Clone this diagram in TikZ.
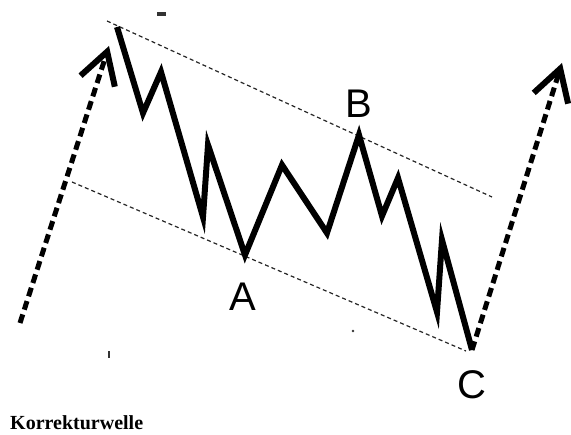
\documentclass[tikz,border=0pt]{standalone}
\usepackage{fontspec}
\setmainfont{Liberation Serif}
\newfontfamily\labfont{Liberation Sans}
\usetikzlibrary{arrows.meta,positioning}

\begin{document}
\begin{tikzpicture}[x=1pt,y=-1pt,
     wave/.style={line width=6pt,line join=miter,line cap=butt},
     trend/.style={line width=5pt,dash pattern=on 9pt off 5pt,
       -{Straight Barb[length=31pt,width=36pt,line width=6pt]}},
     chan/.style={line width=1.2pt,dash pattern=on 4pt off 3pt,black!85},
     lab/.style={font=\labfont\fontsize{40}{40}\selectfont,inner sep=0pt},
     speck/.style={fill=black!80,draw=none}]
    \useasboundingbox (0,0) rectangle (571,435);
    % turning points of the correction
    \coordinate (top) at (117,27);
    \coordinate (A) at (245,255);
    \coordinate (B) at (359,135);
    \coordinate (C) at (472,350);
    % channel
    \coordinate (u1) at (107,21); \coordinate (u2) at (492,197);
    \coordinate (l1) at (72,182); \coordinate (l2) at (466,351);
    \draw[chan] (u1) -- (u2);
    \draw[chan] (l1) -- (l2);
    % trend before and after
    \coordinate (start) at (20,323);
    \coordinate (tipL) at (109,46);
    \coordinate (tipR) at (562,63);
    \draw[trend] (start) -- (tipL);
    \draw[trend] (C) -- (tipR);
    % the zigzag
    \draw[wave] (top) -- (143,113) -- (161,72) -- (203,217) -- (208,145)
      -- (A) -- (282,165) -- (327,233) -- (B) -- (382,216) -- (398,178)
      -- (437,312) -- (442,240) -- (C);
    \node[lab] (labA) at (243,297) {A};
    \node[lab] (labB) at (359,104) {B};
    \node[lab] (labC) at (472,385) {C};
    % specks of the scan
    \fill[speck] (157,12) rectangle (166,16);
    \fill[speck] (108,351) rectangle (110,358);
    \fill[speck] (353,331) circle (1.3);
    \node[font=\bfseries\fontsize{20}{20}\selectfont,anchor=base west,
      inner sep=0pt] (title) at (10,430) {Korrekturwelle};
\end{tikzpicture}
\end{document}
